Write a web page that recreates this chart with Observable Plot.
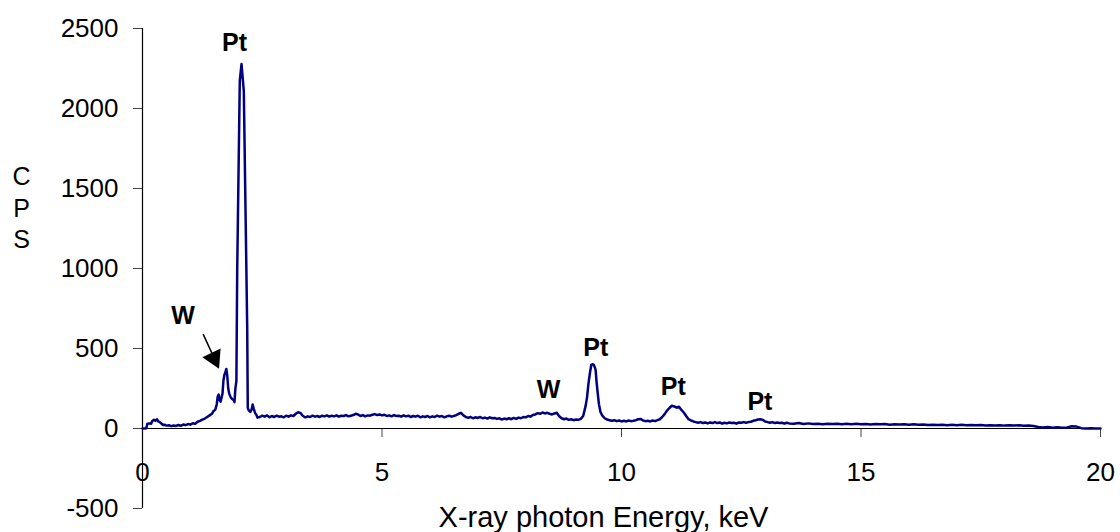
<!DOCTYPE html>
<html><head><meta charset="utf-8">
<script src="https://cdn.jsdelivr.net/npm/d3@7"></script>
<script src="https://cdn.jsdelivr.net/npm/@observablehq/plot@0.6"></script>
<style>body{margin:0;background:#fff}</style>
</head><body><div id="chart"></div>
<script>
const xTicks = [0, 5, 10, 15, 20];
const yTicks = [-500, 0, 500, 1000, 1500, 2000, 2500];
const xTitle = "X-ray photon Energy, keV";
const yTitle = "C\nP\nS";

// EDS spectrum: [energy keV, counts per second]
const lowEnergy = [
  [0,0],[0.04,0],[0.08,2],[0.1,28],[0.14,32],[0.18,30],[0.2,45],[0.24,55],[0.27,48],[0.3,58],
  [0.33,44],[0.36,40],[0.4,30],[0.43,22],[0.46,24],[0.5,18],[0.55,20],[0.6,15],[0.65,19],[0.7,16],
  [0.75,22],[0.8,17],[0.85,25],[0.9,21],[0.95,28],[1.0,24],[1.05,33],[1.1,29],[1.15,42],[1.2,48],
  [1.25,56],[1.3,62],[1.35,72],[1.4,82],[1.45,92],[1.48,108],[1.52,118],[1.55,150],[1.57,200],[1.59,212],
  [1.61,178],[1.63,168],[1.65,192],[1.67,218],[1.69,300],[1.71,335],[1.73,352],[1.75,372],[1.77,328],[1.79,250],
  [1.81,218],[1.84,196],[1.87,184],[1.9,178],[1.92,165],[1.94,252],[1.96,296]
];
const ptMPeak = [
  [1.977,984],[2.031,2172],[2.067,2278],[2.115,2109],[2.15,1380],[2.186,630],[2.198,130],
  [2.22,112],[2.25,104],[2.28,120],[2.3,150],[2.32,126],[2.35,98],[2.38,84],[2.4,68]
];
const midEnergy = [
  [2.45,72],[2.5,80],[2.55,74],[2.6,82],[2.65,70],[2.7,78],[2.75,72],[2.8,80],[2.85,74],[2.9,76],
  [2.95,70],[3.0,80],[3.05,74],[3.1,82],[3.15,78],[3.2,92],[3.25,102],[3.3,96],[3.35,78],[3.4,70],
  [3.45,76],[3.5,72],[3.55,80],[3.6,74],[3.65,78],[3.7,72],[3.75,80],[3.8,76],[3.85,82],[3.9,74],
  [3.95,80],[4.0,76],[4.05,82],[4.1,74],[4.15,80],[4.2,78],[4.25,84],[4.3,76],[4.35,80],[4.4,84],
  [4.45,92],[4.5,88],[4.55,78],[4.6,84],[4.65,76],[4.7,82],[4.75,80],[4.8,86],[4.85,90],[4.9,84],
  [4.95,88],[5.0,82],[5.05,86],[5.1,78],[5.15,82],[5.2,76],[5.25,84],[5.3,78],[5.35,80],[5.4,74],
  [5.45,82],[5.5,76],[5.55,80],[5.6,72],[5.65,78],[5.7,74],[5.75,80],[5.8,70],[5.85,76],[5.9,72],
  [5.95,78],[6.0,70],[6.05,76],[6.1,72],[6.15,80],[6.2,74],[6.25,78],[6.3,70],[6.35,76],[6.4,80],
  [6.45,74],[6.5,78],[6.55,84],[6.6,92],[6.65,98],[6.7,82],[6.75,72],[6.8,66],[6.85,72],[6.9,64],
  [6.95,70],[7.0,66],[7.05,72],[7.1,64],[7.15,68],[7.2,62],[7.25,70],[7.3,64],[7.35,66],[7.4,60],
  [7.45,64],[7.5,56],[7.55,62],[7.6,58],[7.65,64],[7.7,58],[7.75,66],[7.8,60],[7.85,68],[7.9,64],
  [7.95,72],[8.0,70],[8.05,78],[8.1,74],[8.15,84],[8.2,88],[8.25,96],[8.3,92],[8.35,100],[8.4,94],
  [8.45,98],[8.5,92],[8.55,88],[8.6,94],[8.65,98],[8.7,76],[8.75,64],[8.8,58],[8.85,62],[8.9,54],
  [8.95,58],[9.0,52],[9.05,56],[9.1,54],[9.15,60]
];
const ptLPeaks = [
  [9.2,78],[9.25,140],[9.28,193],[9.31,280],[9.34,345],[9.37,398],[9.4,402],[9.42,398],[9.44,385],[9.46,365],
  [9.48,290],[9.5,230],[9.53,150],[9.56,104],[9.6,80],[9.65,64],[9.7,56],[9.75,52],[9.8,48],[9.85,52],
  [9.9,46],[9.95,50],[10.0,44],[10.05,48],[10.1,44],[10.15,50],[10.2,46],[10.25,48],[10.3,52],[10.35,58],
  [10.4,60],[10.45,50],[10.5,46],[10.55,48],[10.6,44],[10.65,50],[10.7,46],[10.75,52],[10.8,58],[10.85,72],
  [10.9,90],[10.95,112],[11.0,128],[11.05,142],[11.1,138],[11.15,130],[11.2,136],[11.25,116],[11.3,100],[11.35,78],
  [11.4,58],[11.45,50],[11.5,44],[11.55,40],[11.6,36],[11.65,40],[11.7,34],[11.75,38],[11.8,32],[11.85,38],
  [11.9,34],[11.95,40],[12.0,34],[12.05,38],[12.1,30],[12.15,36],[12.2,32],[12.25,38],[12.3,34],[12.35,36],
  [12.4,30],[12.45,38],[12.5,36],[12.55,40],[12.6,36],[12.65,40],[12.7,42],[12.75,48],[12.8,52],[12.85,56],
  [12.9,58],[12.95,54],[13.0,44],[13.05,40],[13.1,36],[13.15,40],[13.2,34],[13.25,38],[13.3,34],[13.35,36],
  [13.4,30],[13.45,36],[13.5,32]
];
const highEnergy = [
  [13.6,30],[13.7,34],[13.8,28],[13.9,32],[14.0,28],[14.1,30],[14.2,26],[14.3,30],[14.4,28],[14.5,30],
  [14.6,26],[14.7,29],[14.8,27],[14.9,30],[15.0,26],[15.1,28],[15.2,25],[15.3,28],[15.4,26],[15.5,28],
  [15.6,24],[15.7,27],[15.8,25],[15.9,27],[16.0,24],[16.1,26],[16.2,23],[16.3,25],[16.4,22],[16.5,24],
  [16.6,22],[16.7,24],[16.8,21],[16.9,23],[17.0,21],[17.1,23],[17.2,20],[17.3,22],[17.4,20],[17.5,22],
  [17.6,19],[17.7,21],[17.8,19],[17.9,21],[18.0,18],[18.1,20],[18.2,18],[18.3,20],[18.4,17],[18.5,19],
  [18.6,16],[18.7,10],[18.8,6],[18.9,9],[19.0,5],[19.1,8],[19.2,4],[19.3,6],[19.4,14],[19.5,12],
  [19.6,2],[19.7,0],[19.8,1],[19.9,0],[20.0,0]
];

// peak annotations (energy keV, cps at text baseline)
const peakLabels = ["Pt", "W", "W", "Pt", "Pt", "Pt"];
const peakLabelEnergy = [1.92, 0.845, 8.476, 9.464, 11.08, 12.89];
const peakLabelCps = [2359, 655, 192, 453, 209, 114];
// arrow pointing at the W peak
const arrowTail = [1.267, 589];
const arrowNeck = [1.455, 467];
const arrowHeadCentre = [1.493, 440];

const rows = [...lowEnergy, ...ptMPeak, ...midEnergy, ...ptLPeaks, ...highEnergy].map(([e, c]) => ({e, c}));
const labels = peakLabels.map((t, i) => ({t, e: peakLabelEnergy[i], c: peakLabelCps[i]}));

const chart = Plot.plot({
  width: 1120,
  height: 532,
  marginLeft: 142,
  marginRight: 20,
  marginTop: 28,
  marginBottom: 24,
  style: {fontFamily: "'Liberation Sans', Arial, sans-serif", fontSize: "26px", color: "#000", background: "#fff"},
  x: {domain: [0, 20]},
  y: {domain: [-500, 2500]},
  marks: [
    Plot.axisY({ticks: yTicks, tickSize: 9, tickPadding: 15, tickFormat: d => String(d), stroke: "#444", label: null}),
    Plot.axisX({anchor: "bottom", ticks: xTicks, tickSize: 9, tickPadding: 25, dy: -80, tickFormat: d => String(d), stroke: "#444", label: null}),
    Plot.ruleX([0], {stroke: "#000", strokeWidth: 1.2}),
    Plot.ruleY([0], {stroke: "#000", strokeWidth: 1.2}),
    Plot.line(rows, {x: "e", y: "c", stroke: "#000080", strokeWidth: 2.5, strokeLinejoin: "round"}),
    Plot.text(labels, {x: "e", y: "c", text: "t", fontWeight: "bold", fontSize: 25, lineAnchor: "bottom", textAnchor: "middle", fill: "#000"}),
    Plot.link([0], {x1: () => arrowTail[0], y1: () => arrowTail[1], x2: () => arrowNeck[0], y2: () => arrowNeck[1], stroke: "#000", strokeWidth: 1.6}),
    Plot.dot([0], {x: () => arrowHeadCentre[0], y: () => arrowHeadCentre[1], symbol: "triangle", r: 7.5, fill: "#000", stroke: "none", rotate: 154.5}),
    Plot.text([xTitle], {frameAnchor: "bottom", dx: -18, dy: 18, lineAnchor: "bottom", textAnchor: "middle", fontSize: 29}),
    Plot.text([yTitle], {frameAnchor: "left", dx: -121, dy: -62, lineAnchor: "middle", textAnchor: "middle", fontSize: 25, lineHeight: 1.26})
  ]
});
document.getElementById("chart").appendChild(chart);
</script>
</body></html>
